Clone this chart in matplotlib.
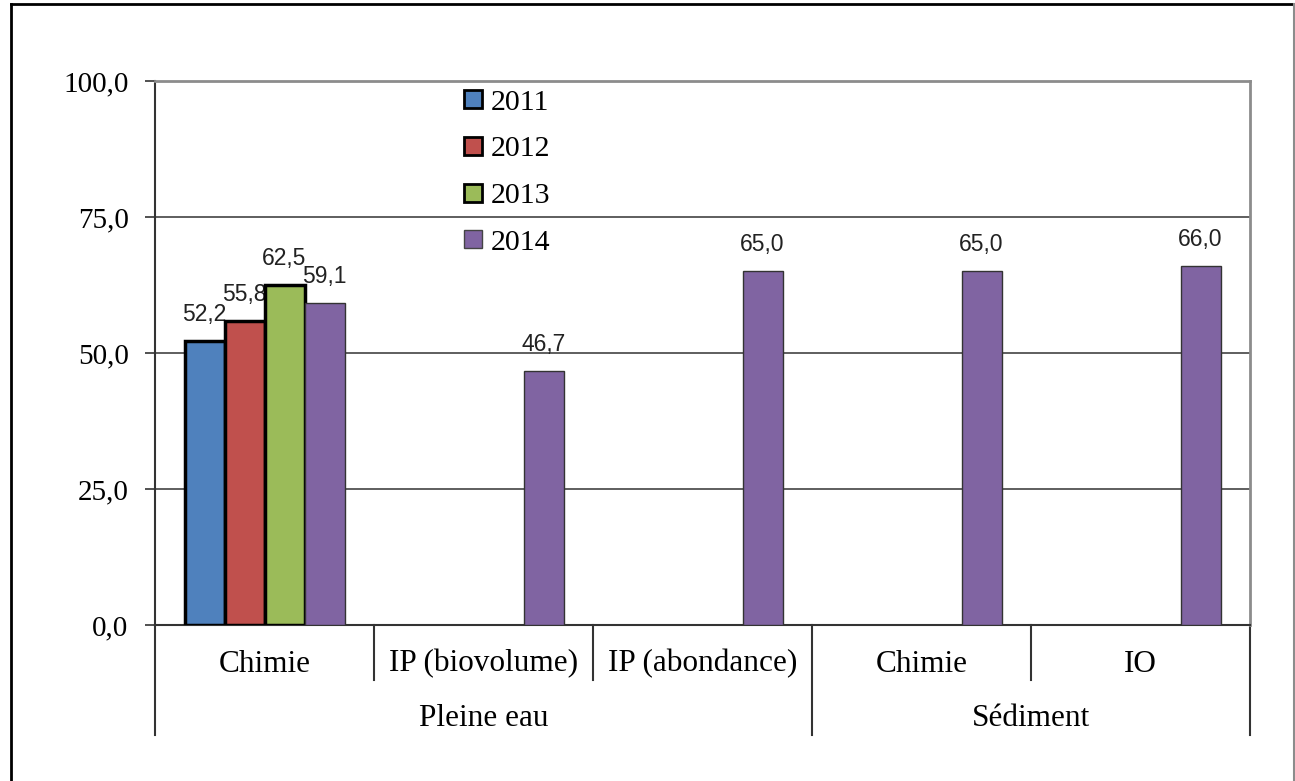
import numpy as np
import matplotlib
matplotlib.use('Agg')
import matplotlib.pyplot as plt
from matplotlib.lines import Line2D

# donnees
categories = ['Chimie', 'IP (biovolume)', 'IP (abondance)', 'Chimie', 'IO']
groupes = ['Pleine eau', 'Pleine eau', 'Pleine eau', 'Sédiment', 'Sédiment']
annees = ['2011', '2012', '2013', '2014']
v2011 = [52.2, np.nan, np.nan, np.nan, np.nan]
v2012 = [55.8, np.nan, np.nan, np.nan, np.nan]
v2013 = [62.5, np.nan, np.nan, np.nan, np.nan]
v2014 = [59.1, 46.7, 65.0, 65.0, 66.0]
series = [v2011, v2012, v2013, v2014]

couleurs = ['#4F81BD', '#C0504D', '#9BBB59', '#8064A2']
serif = 'Liberation Serif'
sans = 'Liberation Sans'

fig = plt.figure(figsize=(12.95, 7.81), dpi=100)
ax = fig.add_axes([155 / 1295, 1 - 625 / 781, (1250 - 155) / 1295, (625 - 81) / 781])

x = np.arange(len(categories))
w = 40 / 219
for k, (vals, c) in enumerate(zip(series, couleurs)):
    pos = x + (k - 1.5) * w
    if k < 3:
        bars = ax.bar(pos, vals, w, color=c, edgecolor='black', linewidth=2.5, zorder=3)
    else:
        bars = ax.bar(pos, vals, w, color=c, edgecolor='#333333', linewidth=1, zorder=3)
    labels = ['' if np.isnan(v) else ('%.1f' % v).replace('.', ',') for v in vals]
    ax.bar_label(bars, labels=labels, padding=11, fontsize=16.5, family=sans, color='#222222')

ax.set_xlim(-0.5, len(categories) - 0.5)
ax.set_ylim(0, 100)
ax.set_yticks([0, 25, 50, 75, 100])
ax.set_yticklabels([('%.1f' % t).replace('.', ',') for t in [0, 25, 50, 75, 100]],
                   fontsize=21, family=serif)
ax.tick_params(axis='y', direction='out', length=7, width=1.2, pad=12, color='#333333')
ax.yaxis.grid(True, color='#333333', linewidth=1.1, zorder=0)
ax.set_axisbelow(True)

for s in ['top', 'right']:
    ax.spines[s].set_color('#8c8c8c')
    ax.spines[s].set_linewidth(2)
ax.spines['left'].set_color('#333333')
ax.spines['left'].set_linewidth(1.5)
ax.spines['bottom'].set_color('#333333')
ax.spines['bottom'].set_linewidth(1.5)

# axe des categories a deux niveaux
ax.set_xticks([])
trans = ax.get_xaxis_transform()
h_px = 625 - 81
for i, lab in enumerate(categories):
    ax.text(i, -(664 - 625) / h_px, lab, transform=trans, ha='center', va='center',
            fontsize=22.5, family=serif)
bornes = [0]
for i in range(1, len(groupes)):
    if groupes[i] != groupes[i - 1]:
        bornes.append(i)
bornes.append(len(groupes))
for b in range(len(groupes) + 1):
    bas = -(735 - 625) / h_px if b in bornes else -(680 - 625) / h_px
    ax.plot([b - 0.5, b - 0.5], [0, bas], transform=trans, color='#333333',
            linewidth=1.5, clip_on=False)
for a, b in zip(bornes[:-1], bornes[1:]):
    ax.text((a + b - 1) / 2, -(718 - 625) / h_px, groupes[a], transform=trans,
            ha='center', va='center', fontsize=22.5, family=serif)

# legende
handles = []
for k, c in enumerate(couleurs):
    handles.append(Line2D([], [], marker='s', linestyle='none', markersize=13,
                          markerfacecolor=c,
                          markeredgecolor='black' if k < 3 else '#444444',
                          markeredgewidth=2 if k < 3 else 1))
leg = ax.legend(handles, annees, loc='upper left',
                bbox_to_anchor=((443 - 155) / 1095, 1.0 + 13 / 544),
                frameon=False, prop={'family': serif, 'size': 21.5}, handlelength=0.6,
                handletextpad=0.3, labelspacing=0.66, borderaxespad=0.3)

# cadre exterieur
fig.add_artist(Line2D([11 / 1295, 11 / 1295], [0, 1 - 4 / 781], color='black', linewidth=2))
fig.add_artist(Line2D([11 / 1295, 1294 / 1295], [1 - 4 / 781, 1 - 4 / 781], color='black', linewidth=2))
fig.add_artist(Line2D([1294 / 1295, 1294 / 1295], [0, 1 - 4 / 781], color='#8c8c8c', linewidth=1.5))

plt.savefig('out.png', dpi=100)
plt.close()
